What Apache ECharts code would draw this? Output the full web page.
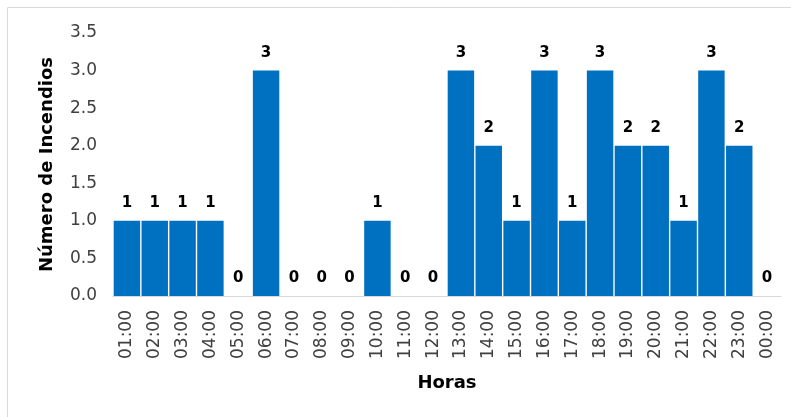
<!DOCTYPE html>
<html>
<head>
<meta charset="utf-8">
<script src="https://cdn.jsdelivr.net/npm/echarts@6/dist/echarts.min.js"></script>
<style>
  html, body { margin: 0; padding: 0; background: #fff; }
  #chart { width: 791px; height: 417px; }
</style>
</head>
<body>
<div id="chart"></div>
<script>
// Hours of the day
const horas = ['01:00','02:00','03:00','04:00','05:00','06:00','07:00','08:00','09:00','10:00','11:00','12:00',
               '13:00','14:00','15:00','16:00','17:00','18:00','19:00','20:00','21:00','22:00','23:00','00:00'];
// Fires recorded per hour
const incendios = [1,1,1,1,0,3,0,0,0,1,0,0,3,2,1,3,1,3,2,2,1,3,2,0];
// Value axis ticks
const yMin = 0, yMax = 3.5, yStep = 0.5;

const font = 'DejaVu Sans, Verdana, sans-serif';
const chart = echarts.init(document.getElementById('chart'));
chart.setOption({
  animation: false,
  graphic: [{
    type: 'rect',
    shape: { x: 7.5, y: 7.5, width: 800, height: 420 },
    style: { fill: 'none', stroke: '#d9d9d9', lineWidth: 1 },
    silent: true
  }],
  grid: { left: 113, right: 10, top: 33, bottom: 121 },
  xAxis: {
    type: 'category',
    data: horas,
    name: 'Horas',
    nameLocation: 'middle',
    nameGap: 78,
    nameTextStyle: { fontFamily: font, fontWeight: 'bold', fontSize: 18, color: '#000' },
    axisLine: { lineStyle: { color: '#d9d9d9', width: 1 } },
    axisTick: { show: false },
    axisLabel: { rotate: 90, margin: 14, fontFamily: font, fontSize: 17, color: '#404040' }
  },
  yAxis: {
    type: 'value',
    min: yMin, max: yMax, interval: yStep,
    name: 'Número de Incendios',
    nameLocation: 'middle',
    nameGap: 57,
    nameTextStyle: { fontFamily: font, fontWeight: 'bold', fontSize: 18, color: '#000' },
    axisLine: { show: false },
    axisTick: { show: false },
    splitLine: { show: false },
    axisLabel: {
      margin: 16, fontFamily: font, fontSize: 17, color: '#404040',
      formatter: v => v.toFixed(1)
    }
  },
  series: [{
    type: 'bar',
    data: incendios,
    barCategoryGap: '5%',
    itemStyle: { color: '#0070C0' },
    label: {
      show: true, position: 'top', distance: 10,
      fontFamily: font, fontWeight: 'bold', fontSize: 15, color: '#000'
    }
  }]
});
</script>
</body>
</html>
